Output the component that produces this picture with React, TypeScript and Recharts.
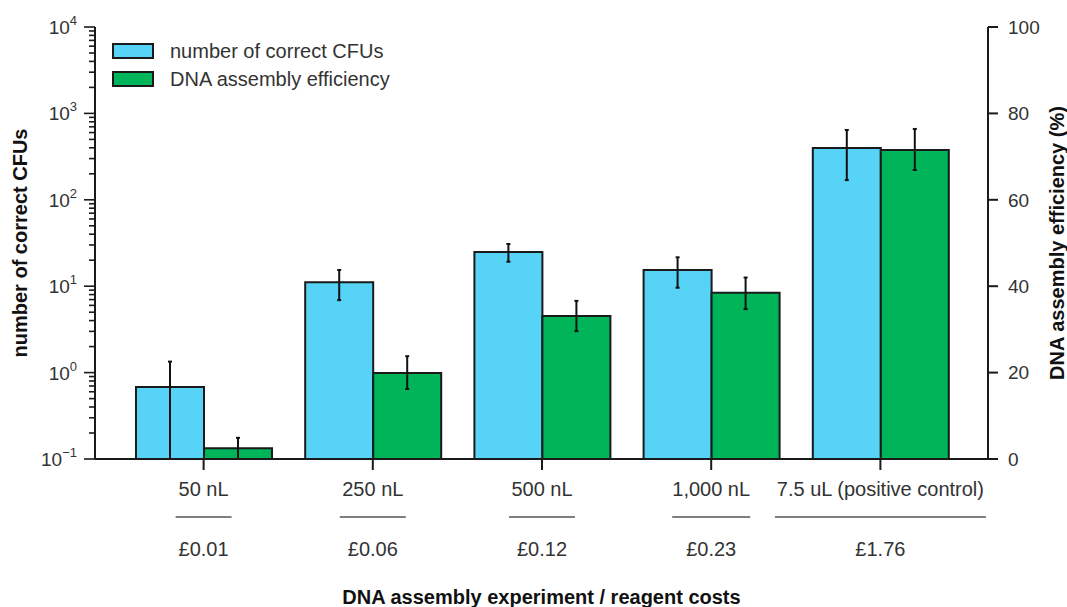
import React from "react";
import { ComposedChart, Bar, XAxis, YAxis, ErrorBar, Legend, Label } from "recharts";

const categories = ["50 nL", "250 nL", "500 nL", "1,000 nL", "7.5 uL (positive control)"];
const costs = ["£0.01", "£0.06", "£0.12", "£0.23", "£1.76"];

// number of correct CFUs (log axis) with error bar bounds
const cfu = [0.68, 11.1, 24.9, 15.4, 398];
const cfuLow = [0.1, 6.9, 19.2, 9.6, 169];
const cfuHigh = [1.34, 15.4, 30.8, 21.6, 643];

// DNA assembly efficiency (%) with error bar bounds
const efficiency = [2.5, 19.9, 33.1, 38.5, 71.5];
const effLow = [0, 16.2, 29.6, 34.7, 66.9];
const effHigh = [4.9, 23.8, 36.6, 42.0, 76.4];

const decades = [-1, 0, 1, 2, 3, 4];
const rightTicks = [0, 20, 40, 60, 80, 100];

// widths of the little separator lines under each category label
const separatorWidths = [56, 66, 66, 78, 211];

const FONT = '"Liberation Sans", Arial, sans-serif';
const BLUE = "#57d3f7";
const GREEN = "#00b45a";
const INK = "#1a1a1a";
const TEXT = "#333";

const logTicks: number[] = [];
decades.forEach((d) => {
  logTicks.push(Math.pow(10, d));
  if (d < 4) for (let m = 2; m <= 9; m++) logTicks.push(m * Math.pow(10, d));
});

const data = categories.map((name, i) => ({
  name,
  cost: costs[i],
  cfu: cfu[i],
  cfuErr: [cfu[i] - cfuLow[i], cfuHigh[i] - cfu[i]],
  eff: efficiency[i],
  effErr: [efficiency[i] - effLow[i], effHigh[i] - efficiency[i]],
}));

const LogTick = ({ x, y, payload }: any) => {
  const v = payload.value;
  const e = Math.log10(v);
  const major = Math.abs(e - Math.round(e)) < 1e-6;
  const exp = Math.round(e);
  return (
    <g>
      <line x1={x} x2={x - (major ? 11 : 6)} y1={y} y2={y} stroke={INK} strokeWidth={1.6} />
      {major && (
        <text x={x - 18} y={y + 7} textAnchor="end" fontFamily={FONT} fontSize={19} fill={TEXT}>
          10
          <tspan dy={-9} fontSize={13}>
            {exp < 0 ? "\u2212" + Math.abs(exp) : exp}
          </tspan>
        </text>
      )}
    </g>
  );
};

const CategoryTick = ({ x, y, payload, index }: any) => {
  const w = separatorWidths[index] ?? 60;
  return (
    <g>
      <text x={x} y={y + 26} textAnchor="middle" fontFamily={FONT} fontSize={20} fill={TEXT}>
        {payload.value}
      </text>
      <line x1={x - w / 2} x2={x + w / 2} y1={y + 47} y2={y + 47} stroke="#555" strokeWidth={1.5} />
      <text x={x} y={y + 86} textAnchor="middle" fontFamily={FONT} fontSize={20} fill={TEXT}>
        {costs[index]}
      </text>
    </g>
  );
};

const LegendBox = () => (
  <div style={{ fontFamily: FONT, fontSize: 20, color: TEXT }}>
    {[
      { label: "number of correct CFUs", color: BLUE },
      { label: "DNA assembly efficiency", color: GREEN },
    ].map((item) => (
      <div key={item.label} style={{ display: "flex", alignItems: "center", height: 28 }}>
        <div
          style={{
            width: 38,
            height: 12,
            background: item.color,
            border: `2px solid ${INK}`,
            marginRight: 16,
          }}
        />
        <span>{item.label}</span>
      </div>
    ))}
  </div>
);

const titleProps = {
  textAnchor: "middle" as const,
  fontFamily: FONT,
  fontSize: 20,
  fontWeight: "bold",
  fill: "#111",
};

export default function App() {
  return (
    <div style={{ position: "absolute", left: 0, top: 0, width: 1067, height: 607, background: "#fff" }}>
      <ComposedChart
        width={1067}
        height={607}
        data={data}
        margin={{ top: 27, right: 29, bottom: 28, left: 25 }}
        barGap={0}
      >
        <XAxis
          xAxisId="top"
          orientation="top"
          dataKey="name"
          height={0}
          tick={false}
          tickLine={false}
          axisLine={{ stroke: INK, strokeWidth: 2 }}
          padding={{ left: 24, right: 23 }}
        />
        <XAxis
          dataKey="name"
          height={120}
          interval={0}
          tickSize={11}
          tickMargin={0}
          tickLine={{ stroke: INK, strokeWidth: 2 }}
          axisLine={{ stroke: INK, strokeWidth: 2 }}
          tick={<CategoryTick />}
          padding={{ left: 24, right: 23 }}
        >
          <Label
            content={({ viewBox }: any) => (
              <text x={viewBox.x + viewBox.width / 2} y={604} {...titleProps}>
                DNA assembly experiment / reagent costs
              </text>
            )}
          />
        </XAxis>
        <YAxis
          yAxisId="left"
          scale="log"
          type="number"
          domain={[0.1, 10000]}
          allowDataOverflow
          ticks={logTicks}
          interval={0}
          width={70}
          tickSize={0}
          tickMargin={0}
          tickLine={false}
          axisLine={{ stroke: INK, strokeWidth: 2 }}
          tick={<LogTick />}
        >
          <Label
            content={({ viewBox }: any) => {
              const cy = viewBox.y + viewBox.height / 2;
              return (
                <text x={27} y={cy} transform={`rotate(-90 27 ${cy})`} {...titleProps}>
                  number of correct CFUs
                </text>
              );
            }}
          />
        </YAxis>
        <YAxis
          yAxisId="right"
          orientation="right"
          type="number"
          domain={[0, 100]}
          ticks={rightTicks}
          interval={0}
          width={50}
          tickSize={10}
          tickMargin={10}
          tickLine={{ stroke: INK, strokeWidth: 2 }}
          axisLine={{ stroke: INK, strokeWidth: 2 }}
          tick={{ fill: TEXT, fontSize: 19, fontFamily: FONT }}
        >
          <Label
            content={({ viewBox }: any) => {
              const cy = viewBox.y + viewBox.height / 2;
              return (
                <text x={1064} y={cy} transform={`rotate(-90 1064 ${cy})`} {...titleProps}>
                  DNA assembly efficiency (%)
                </text>
              );
            }}
          />
        </YAxis>
        <Legend
          layout="vertical"
          align="center"
          verticalAlign="middle"
          content={<LegendBox />}
          wrapperStyle={{ top: 37, left: 112, width: "auto", height: "auto" }}
        />
        <Bar
          yAxisId="left"
          dataKey="cfu"
          name="number of correct CFUs"
          fill={BLUE}
          stroke={INK}
          strokeWidth={2}
          barSize={68}
          isAnimationActive={false}
        >
          <ErrorBar dataKey="cfuErr" width={2} strokeWidth={2} stroke="#111" direction="y" isAnimationActive={false} />
        </Bar>
        <Bar
          yAxisId="right"
          dataKey="eff"
          name="DNA assembly efficiency"
          fill={GREEN}
          stroke={INK}
          strokeWidth={2}
          barSize={68}
          isAnimationActive={false}
        >
          <ErrorBar dataKey="effErr" width={2} strokeWidth={2} stroke="#111" direction="y" isAnimationActive={false} />
        </Bar>
      </ComposedChart>
    </div>
  );
}
